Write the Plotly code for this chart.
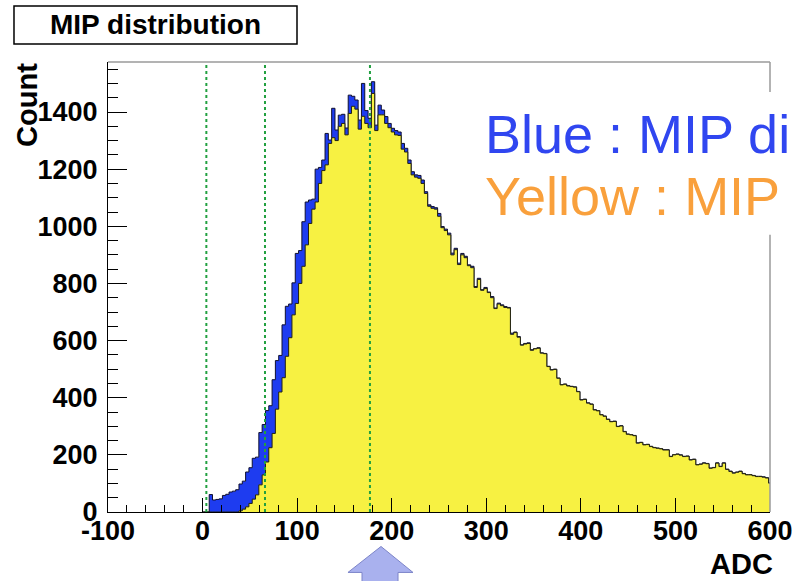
import plotly.graph_objects as go

# ---------------- data ----------------
adc_bin_start = 0.0
adc_bin_width = 3.5

blue_counts = [
    0, 0, 61, 42, 44, 46, 58, 62, 70, 73,
    78, 98, 108, 140, 155, 188, 192, 278, 306, 355,
    372, 463, 530, 548, 655, 720, 728, 802, 905, 915,
    1016, 1085, 1092, 1095, 1200, 1206, 1232, 1325, 1302, 1413,
    1337, 1389, 1392, 1344, 1459, 1455, 1442, 1372, 1500, 1405,
    1378, 1506, 1354, 1424, 1407, 1384, 1360, 1343, 1335, 1330,
    1290, 1273, 1232, 1191, 1180, 1178, 1162, 1121, 1075, 1069,
    1065, 1045, 999, 990, 976, 906, 923, 871, 905, 895,
    865, 860, 789, 818, 778, 786, 770, 754, 714, 731,
    725, 719, 716, 626, 630, 614, 585, 590, 592, 568,
    572, 575, 557, 555, 510, 498, 500, 469, 446, 448,
    442, 440, 438, 422, 393, 395, 382, 378, 358, 355,
    341, 336, 325, 317, 318, 300, 302, 282, 273, 271,
    268, 242, 244, 236, 237, 230, 226, 224, 222, 218,
    218, 195, 201, 203, 200, 195, 196, 183, 185, 166,
    168, 172, 170, 154, 156, 172, 160, 172, 150, 143,
    137, 140, 143, 135, 131, 131, 128, 125, 125, 123,
    120, 102,
]

yellow_counts = [
    0, 0, 0, 0, 0, 0, 0, 0, 0, 0,
    0, 4, 10, 18, 30, 45, 60, 95, 130, 175,
    225, 275, 360, 420, 470, 545, 610, 690, 730, 800,
    860, 935, 1010, 1060, 1085, 1150, 1195, 1215, 1290, 1310,
    1300, 1350, 1360, 1320, 1395, 1420, 1410, 1340, 1385, 1360,
    1345, 1465, 1335, 1390, 1390, 1360, 1345, 1330, 1320, 1318,
    1270, 1260, 1220, 1180, 1172, 1168, 1150, 1115, 1070, 1063,
    1060, 1035, 995, 985, 970, 900, 918, 866, 900, 890,
    862, 855, 786, 814, 776, 782, 768, 750, 712, 728,
    722, 716, 714, 622, 628, 612, 584, 588, 590, 566,
    571, 573, 556, 554, 509, 497, 499, 468, 445, 447,
    441, 439, 437, 421, 392, 394, 381, 377, 357, 354,
    340, 335, 324, 316, 317, 299, 301, 281, 272, 270,
    267, 241, 243, 235, 236, 229, 225, 223, 221, 217,
    217, 194, 200, 202, 199, 194, 195, 182, 184, 165,
    167, 171, 169, 153, 155, 171, 159, 171, 149, 142,
    136, 139, 142, 134, 130, 130, 127, 124, 124, 122,
    119, 101,
]

cut_lines_adc = [4, 66, 177]

x_tick_values = [-100, 0, 100, 200, 300, 400, 500, 600]
x_tick_labels = ["-100", "0", "100", "200", "300", "400", "500", "600"]
y_tick_values = [0, 200, 400, 600, 800, 1000, 1200, 1400]
y_tick_labels = ["0", "200", "400", "600", "800", "1000", "1200", "1400"]

title_text = "MIP distribution"
x_title = "ADC"
y_title = "Count"
legend_blue = "Blue : MIP di"
legend_yellow = "Yellow : MIP"

# ---------------- figure ----------------
def step_xy(counts):
    xs = [adc_bin_start + i * adc_bin_width for i in range(len(counts) + 1)]
    ys = list(counts) + [counts[-1]]
    return xs, ys

FONT = "Liberation Sans, Arial, Helvetica, sans-serif"

fig = go.Figure()
bx, by = step_xy(blue_counts)
fig.add_trace(go.Scatter(x=bx, y=by, mode="lines", line=dict(shape="hv", color="#101030", width=1),
                         fill="tozeroy", fillcolor="#1E3CF0", showlegend=False, hoverinfo="skip"))
yx, yy = step_xy(yellow_counts)
fig.add_trace(go.Scatter(x=yx, y=yy, mode="lines", line=dict(shape="hv", color="#222210", width=1),
                         fill="tozeroy", fillcolor="#F7F142", showlegend=False, hoverinfo="skip"))

shapes = []
for c in cut_lines_adc:
    shapes.append(dict(type="line", xref="x", yref="paper", x0=c, x1=c, y0=0, y1=1,
                       line=dict(color="#22A040", width=2, dash="dot")))
# top and right frame lines (grey)
shapes.append(dict(type="line", xref="paper", yref="paper", x0=0, x1=1, y0=1, y1=1,
                   line=dict(color="#9A9A9A", width=1.5)))
shapes.append(dict(type="line", xref="paper", yref="paper", x0=1, x1=1, y0=0, y1=1,
                   line=dict(color="#9A9A9A", width=1.5)))
# white text box covering part of frame
shapes.append(dict(type="rect", xref="paper", yref="paper", x0=0.5317, x1=1.2, y0=0.616, y1=0.9334,
                   line=dict(width=0), fillcolor="white"))
# title box
shapes.append(dict(type="rect", xref="paper", yref="paper", x0=-0.142, x1=0.2855, y0=1.04, y1=1.1243,
                   line=dict(color="black", width=1.5), fillcolor="white"))
# arrow at bottom
def P(px, py):
    return (px - 108) / 662.0, (512.5 - py) / 450.5
pts = [P(381, 547), P(413, 573), P(398, 573), P(398, 590), P(362, 590), P(362, 573), P(348, 573)]
path = "M " + " L ".join(f"{x:.4f},{y:.4f}" for x, y in pts) + " Z"
shapes.append(dict(type="path", xref="paper", yref="paper", path=path,
                   fillcolor="#A9B1EE", line=dict(color="#7C84C8", width=1)))

annotations = [
    dict(text=title_text, xref="paper", yref="paper", x=0.0718, y=1.0823, showarrow=False,
         xanchor="center", yanchor="middle", font=dict(family=FONT, size=28, color="black", weight="bold")),
    dict(text=x_title, xref="paper", yref="paper", x=1.0076, y=-0.1165, showarrow=False,
         xanchor="right", yanchor="middle", font=dict(family=FONT, size=29, color="black", weight="bold")),
    dict(text=y_title, xref="paper", yref="paper", x=-0.1224, y=0.9046, showarrow=False, textangle=-90,
         xanchor="center", yanchor="middle", font=dict(family=FONT, size=29, color="black", weight="bold")),
    dict(text=legend_blue, xref="paper", yref="paper", x=0.567, y=0.841, showarrow=False,
         xanchor="left", yanchor="middle", font=dict(family=FONT, size=54, color="#3046F0")),
    dict(text=legend_yellow, xref="paper", yref="paper", x=0.567, y=0.703, showarrow=False,
         xanchor="left", yanchor="middle", font=dict(family=FONT, size=54, color="#F9A03C")),
]

fig.update_layout(
    width=796, height=581,
    margin=dict(l=108, r=26, t=62, b=69, autoexpand=False),
    paper_bgcolor="white", plot_bgcolor="white",
    showlegend=False,
    shapes=shapes, annotations=annotations,
    font=dict(family=FONT, color="black"),
)
fig.update_xaxes(range=[-100, 600], showgrid=False, zeroline=False, automargin=False,
                 showline=True, linecolor="black", linewidth=1,
                 ticks="inside", ticklen=14, tickcolor="black", tickwidth=1,
                 tickvals=x_tick_values, ticktext=x_tick_labels, ticklabelstandoff=-5,
                 tickfont=dict(family=FONT, size=27, color="black", weight="bold"),
                 minor=dict(ticks="inside", dtick=20, ticklen=7, tickcolor="black", showgrid=False))
fig.update_yaxes(range=[0, 1575], showgrid=False, zeroline=False, automargin=False,
                 showline=True, linecolor="black", linewidth=1,
                 ticks="inside", ticklen=19, tickcolor="black", tickwidth=1,
                 tickvals=y_tick_values, ticktext=y_tick_labels, ticklabelstandoff=4,
                 tickfont=dict(family=FONT, size=27, color="black", weight="bold"),
                 minor=dict(ticks="inside", dtick=50, ticklen=10, tickcolor="black", showgrid=False))

fig.write_html("out.html")
